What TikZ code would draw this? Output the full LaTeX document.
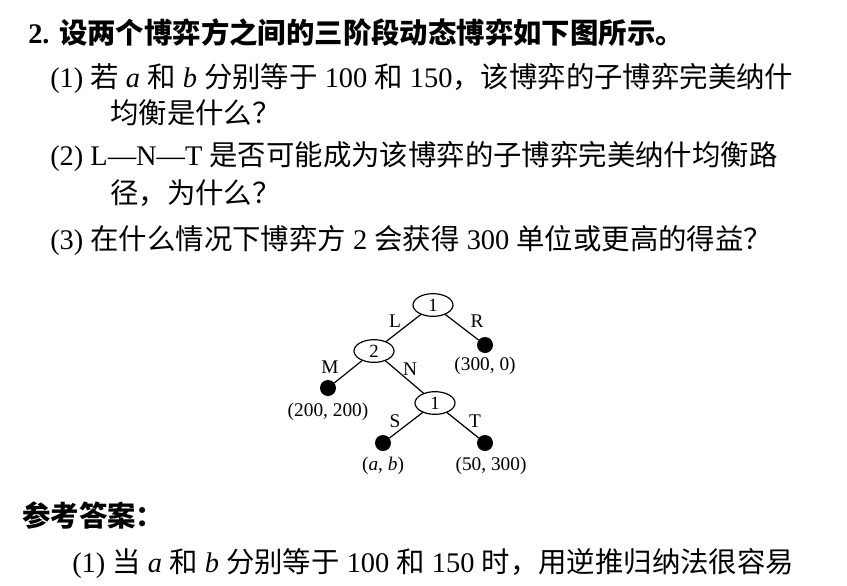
\documentclass[tikz,border=0pt]{standalone}
\usepackage{fontspec}
\usetikzlibrary{shapes.geometric}
\setmainfont{Liberation Serif}
\newfontfamily\cjk{Noto Sans CJK SC}
\newcommand\C[1]{{\cjk #1}}
\begin{document}
\begin{tikzpicture}[x=0.75pt,y=-0.75pt,
  txt/.style={anchor=west,inner sep=0pt,font=\fontsize{21.3}{24}\selectfont},
  pl/.style={draw,ellipse,minimum width=30pt,minimum height=17pt,inner sep=0pt,line width=0.9pt,font=\fontsize{14}{16}\selectfont},
  dot/.style={circle,fill=black,minimum size=12pt,inner sep=0pt},
  lab/.style={inner sep=1pt,font=\fontsize{14.5}{16}\selectfont},
  edge/.style={line width=0.9pt}]
\useasboundingbox (0,0) rectangle (847,586);
\node[txt] (t0) at (28,33) {\bfseries 2. {\cjk\bfseries 设两个博弈方之间的三阶段动态博弈如下图所示。}};
\node[txt] (t1) at (50,78) {(1) \C{若} \textit{a} \C{和} \textit{b} \C{分别等于} 100 \C{和} 150\C{，该博弈的子博弈完美纳什}};
\node[txt] (t1b) at (110,113) {\C{均衡是什么？}};
\node[txt] (t2) at (50,156) {(2) L—N—T \C{是否可能成为该博弈的子博弈完美纳什均衡路}};
\node[txt] (t2b) at (110,193) {\C{径，为什么？}};
\node[txt] (t3) at (50,240) {(3) \C{在什么情况下博弈方} 2 \C{会获得} 300 \C{单位或更高的得益？}};
\node[txt] (t4) at (22,515) {\cjk\bfseries 参考答案：};
\node[txt] (t5) at (72,563) {(1) \C{当} \textit{a} \C{和} \textit{b} \C{分别等于} 100 \C{和} 150 \C{时，用逆推归纳法很容易}};
% tree
\node[pl] (n1) at (433,305) {1};
\node[pl] (n2) at (374,351) {2};
\node[pl] (n3) at (435,403) {1};
\node[dot] (dR) at (485,345) {};
\node[dot] (dM) at (328,388) {};
\node[dot] (dS) at (383,443) {};
\node[dot] (dT) at (485,443) {};
\draw[edge] (n1) -- (n2);
\draw[edge] (n1) -- (dR);
\draw[edge] (n2) -- (dM);
\draw[edge] (n2) -- (n3);
\draw[edge] (n3) -- (dS);
\draw[edge] (n3) -- (dT);
\node[lab] (lL) at (395,321) {L};
\node[lab] (lR) at (477,321) {R};
\node[lab] (lM) at (330,367) {M};
\node[lab] (lN) at (410,369) {N};
\node[lab] (lS) at (395,421) {S};
\node[lab] (lT) at (475,421) {T};
\node[lab] (pR) at (485,366) {(300, 0)};
\node[lab] (pM) at (328,412) {(200, 200)};
\node[lab] (pS) at (383,466) {(\textit{a}, \textit{b})};
\node[lab] (pT) at (491,466) {(50, 300)};
\end{tikzpicture}
\end{document}
